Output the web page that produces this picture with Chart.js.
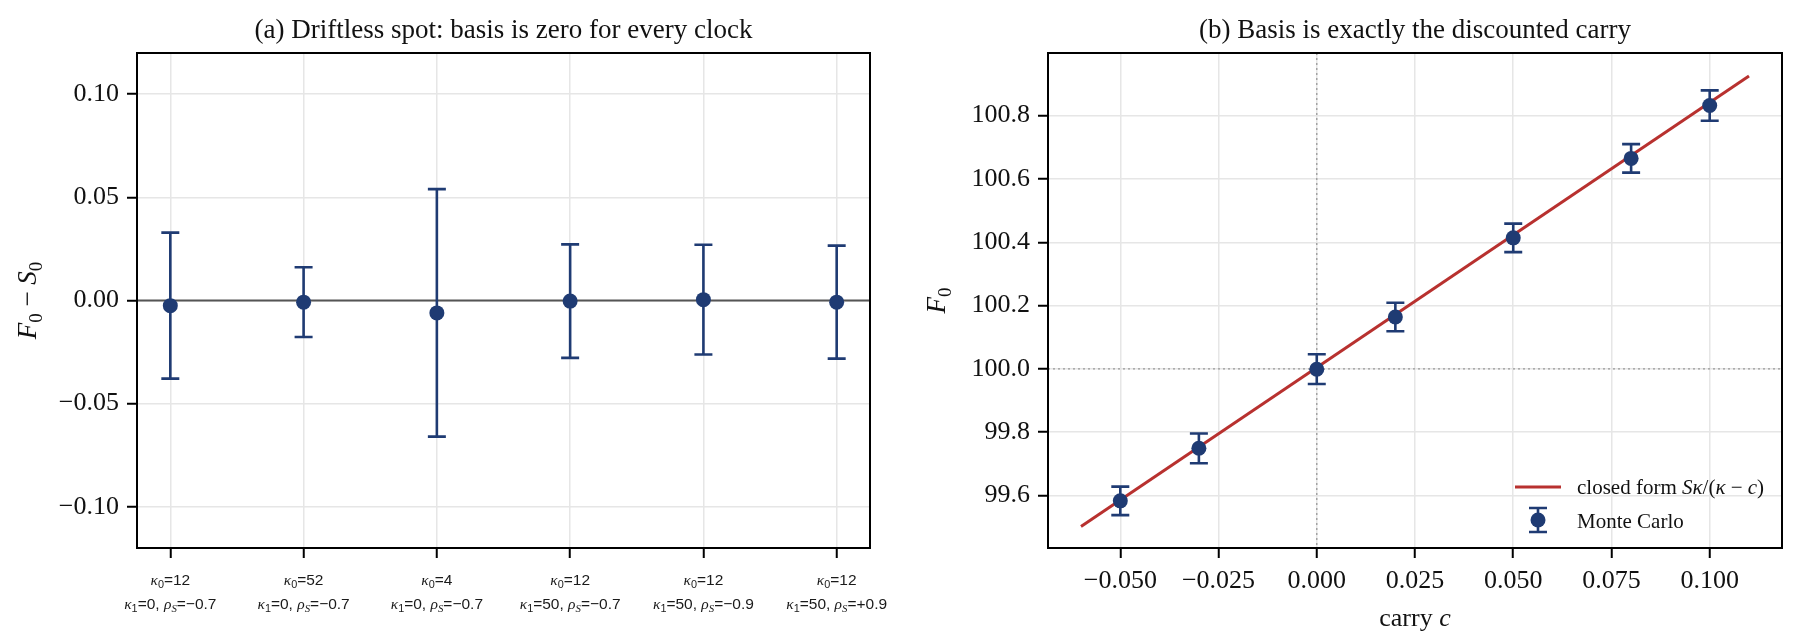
<!DOCTYPE html>
<html>
<head>
<meta charset="utf-8">
<script src="https://cdn.jsdelivr.net/npm/chart.js@4.4.1/dist/chart.umd.min.js"></script>
<style>
html, body { margin: 0; padding: 0; background: #fff; }
#wrap { position: relative; width: 1798px; height: 644px; }
canvas { position: absolute; left: 0; top: 0; }
</style>
</head>
<body>
<div id="wrap">
  <canvas id="left" width="1798" height="644"></canvas>
  <canvas id="right" width="1798" height="644"></canvas>
</div>
<script>
// panel (a): one point per clock setting
const clockKappa0 = ['12', '52', '4', '12', '12', '12'];
const clockKappa1 = ['0', '0', '0', '50', '50', '50'];
const clockRho = ['\u22120.7', '\u22120.7', '\u22120.7', '\u22120.7', '\u22120.9', '+0.9'];
const basisMean = [-0.0025, -0.0008, -0.0060, -0.0003, 0.0004, -0.0008];
const basisErr = [0.0354, 0.0169, 0.0600, 0.0275, 0.0266, 0.0274];
const basisTicks = [-0.10, -0.05, 0.00, 0.05, 0.10];

// panel (b): forward against carry
const carry = [-0.05, -0.03, 0.00, 0.02, 0.05, 0.08, 0.10];
const mcForward = [99.583, 99.749, 99.999, 100.164, 100.414, 100.665, 100.832];
const mcErr = [0.045, 0.047, 0.047, 0.045, 0.045, 0.045, 0.048];
const closedCarry = [-0.06, 0.11];
const closedForward = [99.502, 100.925];
const carryTicks = [-0.050, -0.025, 0.000, 0.025, 0.050, 0.075, 0.100];
const forwardTicks = [99.6, 99.8, 100.0, 100.2, 100.4, 100.6, 100.8];

const SERIF = "'Liberation Serif', 'Times New Roman', serif";
const SANS = "'Liberation Sans', 'DejaVu Sans', sans-serif";
const NAVY = '#1f3b73';
const RED = '#b8312f';

const minus = s => s.replace('-', '\u2212');

// draw text made of pieces: [text, style] where style has 'i' italic, 's' subscript, 'r' serif face
function drawRich(ctx, parts, x, y, size, family, align) {
  const fonts = parts.map(p => {
    const sz = p[1].includes('s') ? size * 0.7 : size;
    const fam = p[1].includes('r') ? SERIF : family;
    return (p[1].includes('i') ? 'italic ' : '') + sz + 'px ' + fam;
  });
  let w = 0;
  parts.forEach((p, i) => { ctx.font = fonts[i]; w += ctx.measureText(p[0]).width; });
  let cx = align === 'center' ? x - w / 2 : x;
  ctx.textAlign = 'left';
  ctx.textBaseline = 'alphabetic';
  parts.forEach((p, i) => {
    ctx.font = fonts[i];
    const dy = p[1].includes('s') ? size * 0.22 : 0;
    ctx.fillText(p[0], cx, y + dy);
    cx += ctx.measureText(p[0]).width;
  });
}

function drawErrorBars(chart, xs, ys, errs) {
  const ctx = chart.ctx, sx = chart.scales.x, sy = chart.scales.y;
  ctx.save();
  ctx.strokeStyle = NAVY;
  ctx.lineWidth = 2.6;
  xs.forEach((xv, i) => {
    const px = sx.getPixelForValue(xv);
    const top = sy.getPixelForValue(ys[i] + errs[i]);
    const bot = sy.getPixelForValue(ys[i] - errs[i]);
    ctx.beginPath();
    ctx.moveTo(px, top); ctx.lineTo(px, bot);
    ctx.moveTo(px - 9, top); ctx.lineTo(px + 9, top);
    ctx.moveTo(px - 9, bot); ctx.lineTo(px + 9, bot);
    ctx.stroke();
  });
  ctx.restore();
}

function frame(chart) {
  const a = chart.chartArea, ctx = chart.ctx;
  ctx.save();
  ctx.strokeStyle = '#000';
  ctx.lineWidth = 2;
  ctx.strokeRect(a.left, a.top, a.right - a.left, a.bottom - a.top);
  ctx.restore();
}

function axis(min, max, ticks, fmt, fit) {
  return {
    type: 'linear', min: min, max: max,
    afterBuildTicks: s => { s.ticks = ticks.map(v => ({ value: v })); },
    afterFit: fit,
    ticks: {
      callback: fmt,
      font: { family: SERIF, size: 26 },
      color: '#111',
      padding: 8,
      maxRotation: 0,
      autoSkip: false
    },
    grid: { color: '#e6e6e6', lineWidth: 1.5, tickColor: '#000', tickLength: 10, tickWidth: 2 },
    border: { color: '#000', width: 2 }
  };
}

const common = {
  responsive: false,
  animation: false,
  events: [],
  plugins: { legend: { display: false }, tooltip: { enabled: false } }
};

// ---------- panel (a)
const clockIdx = basisMean.map((_, i) => i);

new Chart(document.getElementById('left'), {
  type: 'scatter',
  data: {
    datasets: [{
      data: clockIdx.map(i => ({ x: i, y: basisMean[i] })),
      pointRadius: 7.5,
      pointBackgroundColor: NAVY,
      pointBorderWidth: 0
    }, {
      type: 'line',
      data: [{ x: -0.25, y: 0 }, { x: 5.25, y: 0 }],
      borderColor: '#555',
      borderWidth: 2,
      pointRadius: 0
    }]
  },
  options: Object.assign({}, common, {
    layout: { padding: { left: 57, right: 928, top: 53, bottom: 26 } },
    scales: {
      x: axis(-0.25, 5.25, clockIdx, () => '', s => { s.height = 70; }),
      y: axis(-0.12, 0.12, basisTicks, v => minus(v.toFixed(2)), s => { s.width = 80; })
    }
  }),
  plugins: [{
    id: 'panelA',
    beforeDatasetDraw(chart, args) {
      if (args.index === 0) drawErrorBars(chart, clockIdx, basisMean, basisErr);
    },
    afterDraw(chart) {
      const ctx = chart.ctx, a = chart.chartArea, sx = chart.scales.x;
      frame(chart);
      ctx.save();
      ctx.fillStyle = '#111';
      drawRich(ctx, [['(a) Driftless spot: basis is zero for every clock', '']],
        (a.left + a.right) / 2, 38, 27, SERIF, 'center');
      ctx.fillStyle = '#1a1a1a';
      clockIdx.forEach(i => {
        const px = sx.getPixelForValue(i);
        drawRich(ctx, [['\u03ba', 'ir'], ['0', 's'], ['=' + clockKappa0[i], '']], px, 585, 15.5, SANS, 'center');
        drawRich(ctx, [['\u03ba', 'ir'], ['1', 's'], ['=' + clockKappa1[i] + ', ', ''],
          ['\u03c1', 'ir'], ['S', 'sir'], ['=' + clockRho[i], '']], px, 609, 15.5, SANS, 'center');
      });
      ctx.fillStyle = '#111';
      ctx.translate(36, (a.top + a.bottom) / 2);
      ctx.rotate(-Math.PI / 2);
      drawRich(ctx, [['F', 'i'], ['0', 's'], [' \u2212 ', ''], ['S', 'i'], ['0', 's']], 0, 0, 27, SERIF, 'center');
      ctx.restore();
    }
  }]
});

// ---------- panel (b)
new Chart(document.getElementById('right'), {
  type: 'scatter',
  data: {
    datasets: [{
      data: carry.map((c, i) => ({ x: c, y: mcForward[i] })),
      pointRadius: 7.5,
      pointBackgroundColor: NAVY,
      pointBorderWidth: 0
    }, {
      type: 'line',
      data: closedCarry.map((c, i) => ({ x: c, y: closedForward[i] })),
      borderColor: RED,
      borderWidth: 3,
      pointRadius: 0
    }]
  },
  options: Object.assign({}, common, {
    layout: { padding: { left: 968, right: 16, top: 53, bottom: 26 } },
    scales: {
      x: axis(-0.0684, 0.1184, carryTicks, v => minus(v.toFixed(3)), s => { s.height = 70; }),
      y: axis(99.434, 100.998, forwardTicks, v => v.toFixed(1), s => { s.width = 80; })
    }
  }),
  plugins: [{
    id: 'panelB',
    beforeDatasetsDraw(chart) {
      const ctx = chart.ctx, a = chart.chartArea;
      const px = chart.scales.x.getPixelForValue(0);
      const py = chart.scales.y.getPixelForValue(100);
      ctx.save();
      ctx.strokeStyle = '#999';
      ctx.lineWidth = 1.3;
      ctx.setLineDash([2, 3]);
      ctx.beginPath();
      ctx.moveTo(px, a.top); ctx.lineTo(px, a.bottom);
      ctx.moveTo(a.left, py); ctx.lineTo(a.right, py);
      ctx.stroke();
      ctx.restore();
    },
    beforeDatasetDraw(chart, args) {
      if (args.index === 0) drawErrorBars(chart, carry, mcForward, mcErr);
    },
    afterDraw(chart) {
      const ctx = chart.ctx, a = chart.chartArea;
      frame(chart);
      ctx.save();
      ctx.fillStyle = '#111';
      const cx = (a.left + a.right) / 2;
      drawRich(ctx, [['(b) Basis is exactly the discounted carry', '']], cx, 38, 27, SERIF, 'center');
      drawRich(ctx, [['carry ', ''], ['c', 'i']], cx, 626, 26, SERIF, 'center');

      // legend
      ctx.strokeStyle = RED;
      ctx.lineWidth = 3;
      ctx.beginPath(); ctx.moveTo(1515, 487); ctx.lineTo(1561, 487); ctx.stroke();
      ctx.strokeStyle = NAVY;
      ctx.lineWidth = 2.6;
      ctx.beginPath();
      ctx.moveTo(1538, 508); ctx.lineTo(1538, 532);
      ctx.moveTo(1529, 508); ctx.lineTo(1547, 508);
      ctx.moveTo(1529, 532); ctx.lineTo(1547, 532);
      ctx.stroke();
      ctx.fillStyle = NAVY;
      ctx.beginPath(); ctx.arc(1538, 520, 7.5, 0, Math.PI * 2); ctx.fill();
      ctx.fillStyle = '#111';
      drawRich(ctx, [['closed form ', ''], ['S\u03ba', 'i'], ['/(', ''], ['\u03ba', 'i'], [' \u2212 ', ''], ['c', 'i'], [')', '']],
        1577, 494, 21, SERIF, 'left');
      drawRich(ctx, [['Monte Carlo', '']], 1577, 528, 21, SERIF, 'left');

      ctx.translate(945, (a.top + a.bottom) / 2);
      ctx.rotate(-Math.PI / 2);
      drawRich(ctx, [['F', 'i'], ['0', 's']], 0, 0, 27, SERIF, 'center');
      ctx.restore();
    }
  }]
});
</script>
</body>
</html>
